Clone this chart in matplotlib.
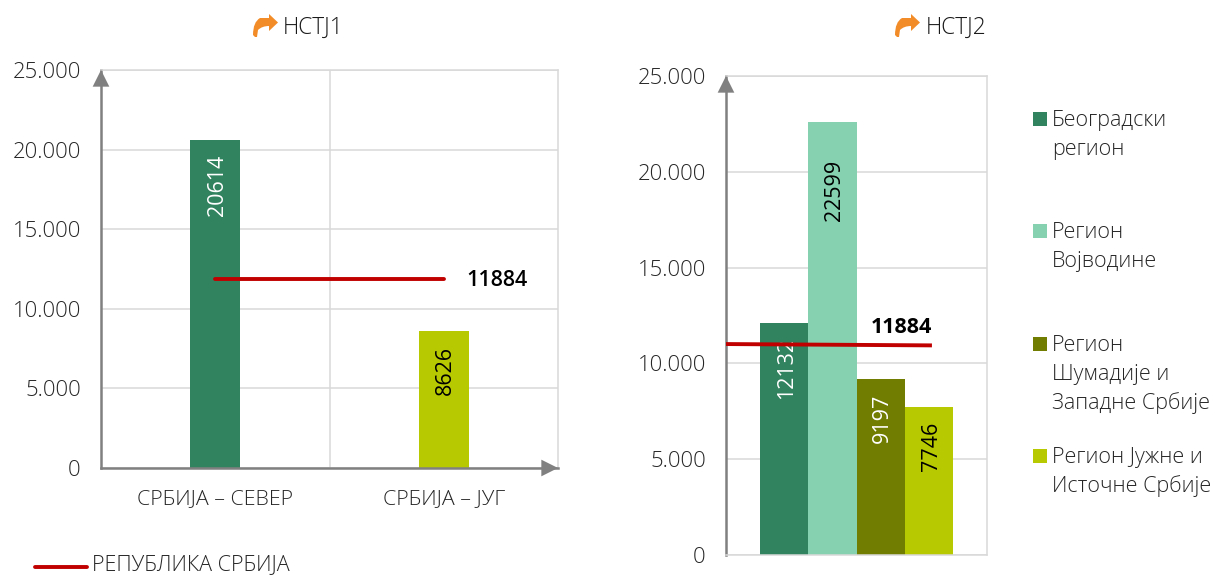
import matplotlib
matplotlib.use('Agg')
import matplotlib.pyplot as plt
from matplotlib.patches import PathPatch, Rectangle
from matplotlib.path import Path
from matplotlib.lines import Line2D
from matplotlib.ticker import FuncFormatter, MultipleLocator

plt.rcParams['font.family'] = ['Open Sans', 'Noto Sans', 'DejaVu Sans']
plt.rcParams['font.weight'] = 'light'

# data
left_categories = ['СРБИЈА – СЕВЕР', 'СРБИЈА – ЈУГ']
left_values = [20614, 8626]
left_line_x = [0, 1]
left_line_y = [11884, 11884]

right_names = ['Београдски\nрегион', 'Регион\nВојводине',
               'Регион\nШумадије и\nЗападне Србије', 'Регион Јужне и\nИсточне Србије']
right_values = [12132, 22599, 9197, 7746]
right_line_x = [-0.5, 0.289]
right_line_y = [11010, 10940]

line_label = 11884
line_name = 'РЕПУБЛИКА СРБИЈА'
titles = ['НСТЈ1', 'НСТЈ2']

GREEN = '#31825F'
MINT = '#85D1B0'
OLIVE = '#717D00'
LIME = '#B7C900'
RED = '#C00000'
GRID = '#D9D9D9'
AXIS = '#808080'
TEXT = '#262626'
ORANGE = '#F28C28'

W, H = 1211, 576
fig = plt.figure(figsize=(W / 100, H / 100), dpi=100)
ARROW = dict(arrowstyle='-|>,head_length=0.8,head_width=0.4', color=AXIS, lw=0,
             shrinkA=0, shrinkB=0, mutation_scale=15)


def add_axes_px(x0, y0, x1, y1):
    return fig.add_axes([x0 / W, 1 - y1 / H, (x1 - x0) / W, (y1 - y0) / H])


def fmt(v, pos):
    return f'{int(v):,}'.replace(',', '.')


def style_axes(ax):
    ax.set_ylim(0, 25000)
    ax.yaxis.set_major_locator(MultipleLocator(5000))
    ax.yaxis.set_major_formatter(FuncFormatter(fmt))
    ax.tick_params(axis='y', length=0, pad=14.5, labelsize=15.8, labelcolor=TEXT)
    ax.tick_params(axis='x', length=0)
    ax.grid(axis='y', color=GRID, lw=1.1)
    ax.set_axisbelow(True)
    for s in ax.spines.values():
        s.set_color(GRID)
        s.set_linewidth(1.1)
    ax.spines['left'].set_color(AXIS)
    ax.spines['left'].set_linewidth(1.8)
    # arrow head on the y axis
    ax.annotate('', xy=(0, 1), xytext=(0, 0.9), xycoords='axes fraction',
                arrowprops=ARROW, zorder=6, annotation_clip=False)


def bar_label(ax, x, v, color, drop=11):
    ax.annotate(str(v), xy=(x, v), xytext=(1.5, -drop), textcoords='offset points',
                rotation=90, ha='center', va='top', color=color, fontsize=15.5,
                fontweight='normal', zorder=3)


# left chart
ax1 = add_axes_px(101, 70, 558, 468)
style_axes(ax1)
ax1.set_xlim(-0.5, 1.5)
ax1.bar([0, 1], left_values, width=0.22, color=[GREEN, LIME], zorder=2)
ax1.axvline(0.5, color=GRID, lw=1.1, zorder=1)
ax1.set_xticks([0, 1], left_categories, fontsize=15.4, color=TEXT)
ax1.tick_params(axis='x', pad=15.5)
ax1.spines['bottom'].set_color(AXIS)
ax1.spines['bottom'].set_linewidth(1.8)
ax1.annotate('', xy=(1, 0), xytext=(0.9, 0), xycoords='axes fraction',
             arrowprops=ARROW, zorder=6, annotation_clip=False)
bar_label(ax1, 0, left_values[0], 'white')
bar_label(ax1, 1, left_values[1], 'black')
ax1.plot(left_line_x, left_line_y, color=RED, lw=2.8, zorder=4, solid_capstyle='round')
ax1.annotate(str(line_label), xy=(1, left_line_y[1]), xytext=(16, -1), textcoords='offset points',
             va='center', ha='left', fontsize=15.5, fontweight=600, color='black')

# right chart
ax2 = add_axes_px(726, 76, 987, 555)
style_axes(ax2)
ax2.set_xlim(-0.5, 0.5)
bar_w = 0.185
offsets = [-1.5 * bar_w, -0.5 * bar_w, 0.5 * bar_w, 1.5 * bar_w]
ax2.bar(offsets, right_values, width=bar_w, color=[GREEN, MINT, OLIVE, LIME], zorder=2)
ax2.set_xticks([])
# the 22599 label sits lower in its bar than the others
for off, v, c, d in zip(offsets, right_values, ['white', 'black', 'white', 'black'], [11, 27, 11, 11]):
    bar_label(ax2, off, v, c, d)
ax2.plot(right_line_x, right_line_y, color=RED, lw=2.8, zorder=4, solid_capstyle='butt')
ax2.annotate(str(line_label), xy=(right_line_x[1], right_line_y[1]), xytext=(0, 5.5),
             textcoords='offset points', va='bottom', ha='right',
             fontsize=15.5, fontweight='bold', color='black')


def px(x, y):
    return x / W, 1 - y / H


# legend on the right
legend_y = [119, 231, 344, 456]
for name, c, y in zip(right_names, [GREEN, MINT, OLIVE, LIME], legend_y):
    x0, y0 = px(1033, y + 7)
    fig.add_artist(Rectangle((x0, y0), 14 / W, 14 / H, transform=fig.transFigure,
                             facecolor=c, edgecolor='none'))
    for i, part in enumerate(name.split('\n')):
        tx, ty = px(1052, y + 1.5 + i * 29)
        fig.text(tx, ty, part, fontsize=15.5, color=TEXT, va='center', ha='left')

# legend on the left
lx0, ly = px(35, 567)
lx1, _ = px(87, 567)
fig.add_artist(Line2D([lx0, lx1], [ly, ly], transform=fig.transFigure, color=RED, lw=2.8,
                      solid_capstyle='round'))
tx, ty = px(92, 565)
fig.text(tx, ty, line_name, fontsize=15.5, color=TEXT, va='center', ha='left')


# orange arrow icons next to titles
def icon(x):
    pts = [(x - 1, 35), (x - 1, 22), (x + 6, 18), (x + 15, 18), (x + 15, 14), (x + 24, 22.5),
           (x + 15, 31), (x + 15, 26), (x + 8, 26), (x + 4, 30), (x + 3, 37), (x + 1, 37), (x - 1, 35)]
    codes = [Path.MOVETO, Path.CURVE3, Path.CURVE3, Path.LINETO, Path.LINETO, Path.LINETO,
             Path.LINETO, Path.LINETO, Path.CURVE3, Path.CURVE3, Path.LINETO, Path.LINETO, Path.CLOSEPOLY]
    verts = [(a / W, 1 - b / H) for a, b in pts]
    fig.add_artist(PathPatch(Path(verts, codes), transform=fig.transFigure,
                             facecolor=ORANGE, edgecolor='none'))


for t, ix, tx in zip(titles, [254, 896], [283, 926]):
    icon(ix)
    a, b = px(tx, 28)
    fig.text(a, b, t, fontsize=16.3, color='#1a1a1a', va='center', ha='left')

fig.savefig('out.png', dpi=100)
